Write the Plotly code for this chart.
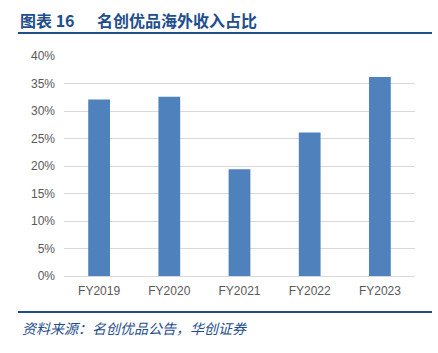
import plotly.graph_objects as go

categories = ["FY2019", "FY2020", "FY2021", "FY2022", "FY2023"]
values = [32.1, 32.6, 19.4, 26.1, 36.2]
tick_vals = [0, 5, 10, 15, 20, 25, 30, 35, 40]
tick_text = [f"{v}%" for v in tick_vals]

W, H = 438, 353
L, R, T, B = 64, 23, 56, 77
pw, ph = W - L - R, H - T - B

def px(x):
    return (x - L) / pw

def py(y):
    return (H - B - y) / ph

navy = "#1F4E8C"

fig = go.Figure(go.Bar(x=categories, y=values, marker=dict(color="#4F81BD", line=dict(width=0)), width=0.31))

fig.update_layout(
    width=W, height=H, margin=dict(l=L, r=R, t=T, b=B),
    paper_bgcolor="white", plot_bgcolor="white", showlegend=False,
    font=dict(family="Liberation Sans, Arial, sans-serif", size=12, color="#595959"),
)
fig.update_yaxes(range=[0, 40], tickvals=tick_vals, ticktext=tick_text, showgrid=True,
                 gridcolor="#D9D9D9", gridwidth=1, zeroline=False, showline=False, ticks="",
                 ticklabelstandoff=8)
fig.update_xaxes(showline=True, linecolor="#D9D9D9", linewidth=1, ticks="", showgrid=False,
                 ticklabelstandoff=4)

shapes = [
    dict(type="line", xref="paper", yref="paper", x0=px(18), x1=px(432), y0=py(33), y1=py(33),
         line=dict(color=navy, width=2)),
    dict(type="line", xref="paper", yref="paper", x0=px(18), x1=px(432), y0=py(312), y1=py(312),
         line=dict(color=navy, width=2)),
]
fig.update_layout(shapes=shapes)

fig.add_annotation(xref="paper", yref="paper", x=px(18), y=py(20), xanchor="left", yanchor="middle",
                   text="<b>图表 16</b>", showarrow=False,
                   font=dict(family="Noto Sans CJK SC", size=16, color=navy))
fig.add_annotation(xref="paper", yref="paper", x=px(95), y=py(20), xanchor="left", yanchor="middle",
                   text="<b>名创优品海外收入占比</b>", showarrow=False,
                   font=dict(family="Noto Sans CJK SC", size=16, color=navy))
fig.add_annotation(xref="paper", yref="paper", x=px(20), y=py(328), xanchor="left", yanchor="middle",
                   text="资料来源：名创优品公告，华创证券", showarrow=False,
                   font=dict(family="Noto Sans CJK SC", size=14, color=navy, style="italic"))

fig.write_html("out.html")
